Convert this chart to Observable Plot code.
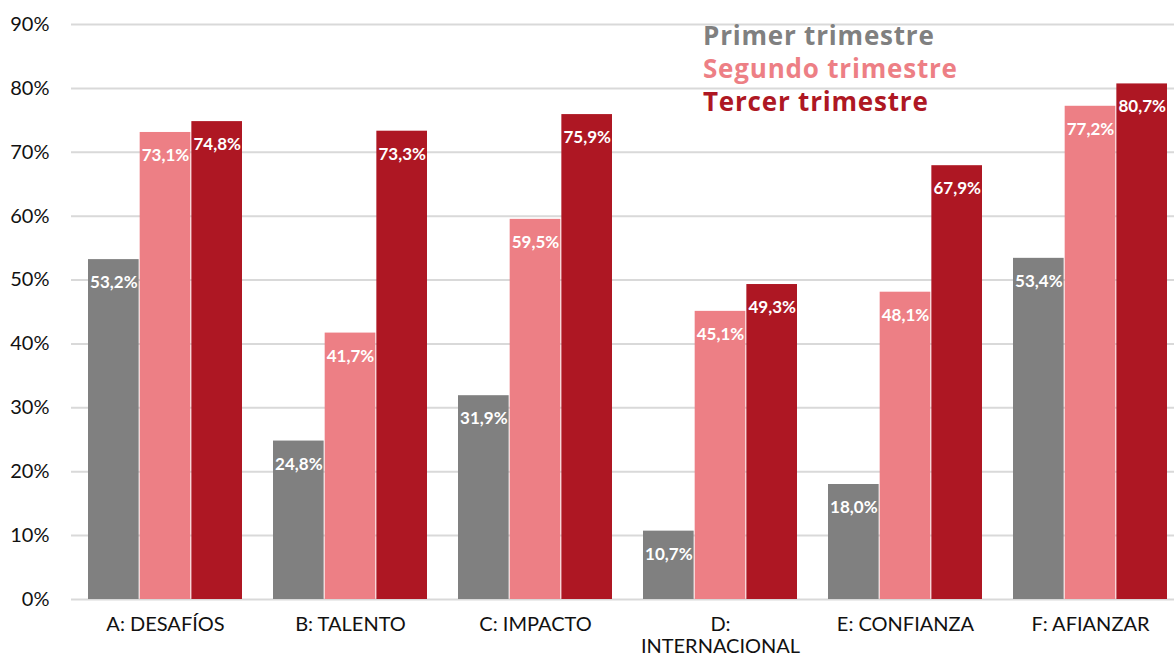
<!DOCTYPE html>
<html>
<head>
<meta charset="utf-8">
<script src="https://cdn.jsdelivr.net/npm/d3@7"></script>
<script src="https://cdn.jsdelivr.net/npm/@observablehq/plot@0.6"></script>
<style>
  html, body { margin: 0; padding: 0; background: #fff; overflow: hidden; }
  #wrap { position: relative; width: 1174px; height: 659px; font-family: Lato, "Open Sans", sans-serif; }
  #legend { position: absolute; left: 703px; top: 19px; font-family: "Open Sans", Lato, sans-serif; font-size: 26px; font-weight: bold; line-height: 33px; letter-spacing: 0.8px; }
</style>
</head>
<body>
<div id="wrap"><div id="legend"></div></div>
<script>
const categories = ["A: DESAFÍOS", "B: TALENTO", "C: IMPACTO", "D:\nINTERNACIONAL", "E: CONFIANZA", "F: AFIANZAR"];
const series = ["Primer trimestre", "Segundo trimestre", "Tercer trimestre"];
const primer  = [53.2, 24.8, 31.9, 10.7, 18.0, 53.4];
const segundo = [73.1, 41.7, 59.5, 45.1, 48.1, 77.2];
const tercer  = [74.8, 73.3, 75.9, 49.3, 67.9, 80.7];
const yTicks = [0, 10, 20, 30, 40, 50, 60, 70, 80, 90];
const colors = ["#808080", "#ED7F85", "#AE1723"];

const values = [primer, segundo, tercer];
const data = categories.flatMap((c, i) => series.map((s, j) => ({cat: c, series: s, value: values[j][i]})));

const xRange = [71, 1185];
const paddingInner = 0.165;
const step = (xRange[1] - xRange[0]) / categories.length;
const third = step * (1 - paddingInner) / 3;
const fmt = v => v.toFixed(1).replace(".", ",") + "%";

const marks = [
  Plot.ruleY(yTicks, {stroke: "#d9d9d9", strokeWidth: 2}),
  Plot.axisY({ticks: yTicks, tickSize: 0, tickPadding: 22, tickFormat: d => d + "%", fontSize: 20, fill: "#111"}),
  Plot.axisX({tickSize: 0, tickPadding: 16, fontSize: 20, lineHeight: 1.1, fill: "#111"})
];
series.forEach((s, j) => {
  const sub = data.filter(d => d.series === s);
  marks.push(Plot.barY(sub, {x: "cat", y: "value", fill: colors[j], insetLeft: j * third, insetRight: (2 - j) * third}));
});
series.forEach((s, j) => {
  const sub = data.filter(d => d.series === s);
  marks.push(Plot.text(sub, {x: "cat", y: "value", text: d => fmt(d.value), dx: (j - 1) * third, dy: 23, fill: "white", fontWeight: "bold", fontSize: 17}));
});

const chart = Plot.plot({
  width: 1174,
  height: 659,
  marginLeft: 71,
  marginRight: 0,
  marginTop: 24,
  marginBottom: 60,
  style: {fontFamily: "Lato, 'Open Sans', sans-serif", background: "white", overflow: "visible"},
  x: {domain: categories, range: xRange, paddingInner: paddingInner, paddingOuter: paddingInner / 2, label: null},
  y: {domain: [0, 90], label: null},
  marks
});
document.getElementById("wrap").prepend(chart);

const legend = document.getElementById("legend");
series.forEach((s, j) => {
  const div = document.createElement("div");
  div.textContent = s;
  div.style.color = colors[j];
  legend.appendChild(div);
});
</script>
</body>
</html>
